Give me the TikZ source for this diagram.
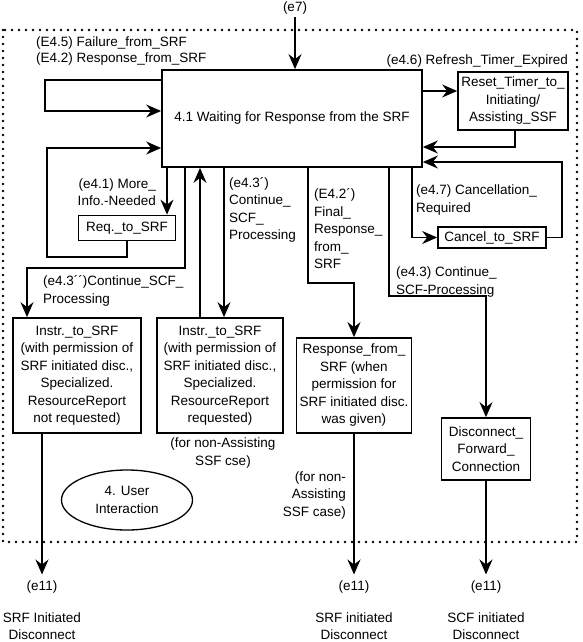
\documentclass[tikz,border=0pt]{standalone}
\usepackage{fontspec}
\setmainfont{Liberation Sans}
\usepackage{tikz}
\usetikzlibrary{shapes.geometric, arrows.meta}
\newcommand{\diafont}{\fontsize{13.5}{17.5}\selectfont}
\tikzstyle{state} = [font=\diafont, rectangle, draw=black, line width=1.7pt, align=center, inner sep=2pt]
\tikzstyle{ustate} = [font=\diafont, ellipse, draw=black, line width=1.3pt, minimum width=131pt, minimum height=60pt, align=center, inner sep=0pt]
\tikzstyle{lbl} = [font=\diafont, inner sep=0pt]
\tikzstyle{arrow} = [line width=1.4pt, -{Stealth[length=15pt,width=13pt,inset=5pt]}]
\tikzstyle{border} = [line width=2.7pt, dash pattern=on 0pt off 7pt, line cap=round]

\begin{document}
\begin{tikzpicture}[x=1pt,y=-1pt]
  \useasboundingbox (0,0) rectangle (582,642);
  \draw[border] (3,30) rectangle (577,542);
  % main state
  \node (wait) [state, minimum width=260pt, minimum height=97pt] at (292,118.5){4.1 Waiting for Response from the SRF};
  \node (e7) [lbl, inner sep=3pt] at (295,8){(e7)};
  \node (lfail) [lbl, anchor=west] at (36,43){(E4.5) Failure\_from\_SRF};
  \node (lresp) [lbl, anchor=west] at (36,59){(E4.2) Response\_from\_SRF};
  \node (reset) [state, minimum width=110pt, minimum height=58pt] at (513,101){Reset\_Timer\_to\_\\
    Initiating/\\
    Assisting\_SSF};
  \node (lrefresh) [lbl, anchor=east] at (568,61){(e4.6) Refresh\_Timer\_Expired};
  \node (req) [state, minimum width=97pt, minimum height=25pt] at (127,228){Req.\_to\_SRF};
  \node (lmore) [lbl, anchor=east, align=right] at (156,192){(e4.1) More\_\\Info.-Needed};
  \node (cancel) [state, minimum width=108pt, minimum height=21pt] at (492,237.5){Cancel\_to\_SRF};
  \node (lcancel) [lbl, anchor=west, align=left] at (416,200){(e4.7) Cancellation\_\\Required};
  % lower states
  \node (instrA) [state, minimum width=128pt, minimum height=115pt] at (77,375.5){Instr.\_to\_SRF\\
    (with permission of\\
    SRF initiated disc.,\\
    Specialized.\\
    ResourceReport\\
    not requested)};
  \node (instrB) [state, minimum width=126pt, minimum height=115pt] at (220,375.5){Instr.\_to\_SRF\\
    (with permission of\\
    SRF initiated disc.,\\
    Specialized.\\
    ResourceReport\\
    requested)};
  \node (lnonA) [lbl, align=center] at (223,453){(for non-Assisting\\SSF cse)};
  \node (respB) [state, minimum width=115pt, minimum height=95pt] at (354,385.5){Response\_from\_\\
    SRF (when\\
    permission for\\
    SRF initiated disc.\\
    was given)};
  \node (lnonB) [lbl, anchor=east, align=right] at (346,495){(for non-\\Assisting\\SSF case)};
  \node (disc) [state, minimum width=89pt, minimum height=62pt] at (486,449){Disconnect\_\\
    Forward\_\\
    Connection};
  \node (user) [ustate] at (127,500){4. User\\Interaction};
  % transition labels
  \node (lcont) [lbl, anchor=west, align=left] at (229,210){(e4.3´)\\Continue\_\\SCF\_\\Processing};
  \node (lcontB) [lbl, anchor=west, align=left] at (43,291){(e4.3´´)Continue\_SCF\_\\Processing};
  \node (lfinal) [lbl, anchor=west, align=left] at (314,229){(E4.2´)\\Final\_\\Response\_\\from\_\\SRF};
  \node (lcontC) [lbl, anchor=west, align=left] at (396,282){(e4.3) Continue\_\\SCF-Processing};
  % exits
  \node (endA) [lbl, inner sep=6pt] at (42,587){(e11)};
  \node (endB) [lbl, inner sep=6pt] at (354,587){(e11)};
  \node (endC) [lbl, inner sep=6pt] at (486,587){(e11)};
  \node (txtA) [lbl, align=center] at (42,626){SRF Initiated\\Disconnect};
  \node (txtB) [lbl, align=center] at (354,626){SRF initiated\\Disconnect};
  \node (txtC) [lbl, align=center] at (486,626){SCF initiated\\Disconnect};
  \draw[arrow](e7) -- (e7 |- wait.north);
  \draw[arrow](wait.west |- 0,80) -- (45,80) |- (wait.west |- 0,111);
  \draw[arrow](req.south) -- (req.south |- 0,257) -| (47,148) -- (wait.west |- 0,148);
  \draw[arrow](wait.south -| 167,0) -- (req.north -| 167,0);
  \draw[arrow](wait.south -| 185,0) -- (185,268) -| (instrA.north -| 27,0);
  \draw[arrow](instrB.north -| 200,0) -- (wait.south -| 200,0);
  \draw[arrow](wait.south -| 224,0) -- (instrB.north -| 224,0);
  \draw[arrow](wait.south -| 308,0) |- (respB.north |- 0,283) -- (respB.north);
  \draw[arrow](wait.south -| 389,0) |- (disc.north |- 0,296) -- (disc.north);
  \draw[arrow](wait.south -| 412,0) |- (cancel.west);
  \draw[arrow](cancel.east) -| (562,162) -- (wait.east |- 0,162);
  \draw[arrow](wait.east |- 0,91) -- (reset.west |- 0,91);
  \draw[arrow](reset.south -| 515,0) |- (wait.east |- 0,147);
  \draw[arrow](instrA.south -| endA) -- (endA.north);
  \draw[arrow](respB.south) -- (endB.north);
  \draw[arrow](disc.south) -- (endC.north);
\end{tikzpicture}
\end{document}
